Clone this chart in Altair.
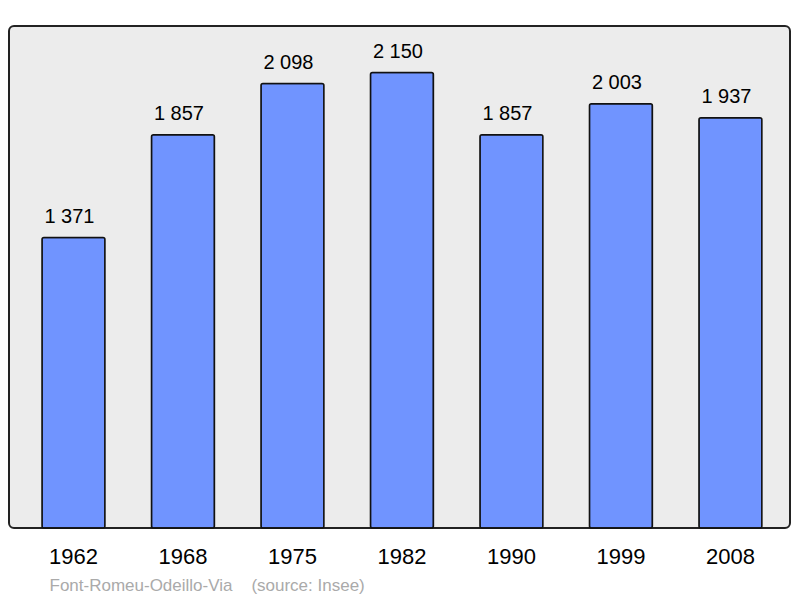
import altair as alt
import pandas as pd

years = ["1962", "1968", "1975", "1982", "1990", "1999", "2008"]
population = [1371, 1857, 2098, 2150, 1857, 2003, 1937]
labels = ["1 371", "1 857", "2 098", "2 150", "1 857", "2 003", "1 937"]
footer = "Font-Romeu-Odeillo-Via \u00a0 \u00a0(source: Insee)"

df = pd.DataFrame({"year": years, "pop": population, "label": labels})

x = alt.X(
    "year:N",
    sort=None,
    scale=alt.Scale(paddingInner=0.425, paddingOuter=0.279, align=0.54),
    axis=alt.Axis(
        title=footer,
        labelAngle=0,
        ticks=False,
        domain=False,
        labelFontSize=22,
        labelFont="Liberation Sans",
        labelColor="#000000",
        labelPadding=18,
        titleFont="Liberation Sans",
        titleFontSize=17,
        titleFontWeight="normal",
        titleColor="#aaaaaa",
        titleAnchor="start",
        titleAlign="left",
        titleBaseline="alphabetic",
        titleX=40,
        titleY=62,
    ),
)
y = alt.Y("pop:Q", scale=alt.Scale(domain=[0, 2370], nice=False), axis=None)

bars = alt.Chart(df).mark_bar(
    color="#7094ff", stroke="#111111", strokeWidth=1.5, cornerRadius=2
).encode(x=x, y=y)

text = alt.Chart(df).mark_text(
    dy=-15, dx=-4, baseline="alphabetic", fontSize=20, font="Liberation Sans", color="#000000"
).encode(x=x, y=y, text="label:N")

chart = (
    (bars + text)
    .properties(
        width=781,
        height=502,
        autosize=alt.AutoSizeParams(type="none"),
        padding={"left": 1, "top": 18, "right": 2, "bottom": 67},
    )
    .configure_view(fill="#ececec", stroke="#222222", strokeWidth=2, cornerRadius=5)
)

chart.save("out.html", embed_options={"renderer": "svg", "actions": False})
